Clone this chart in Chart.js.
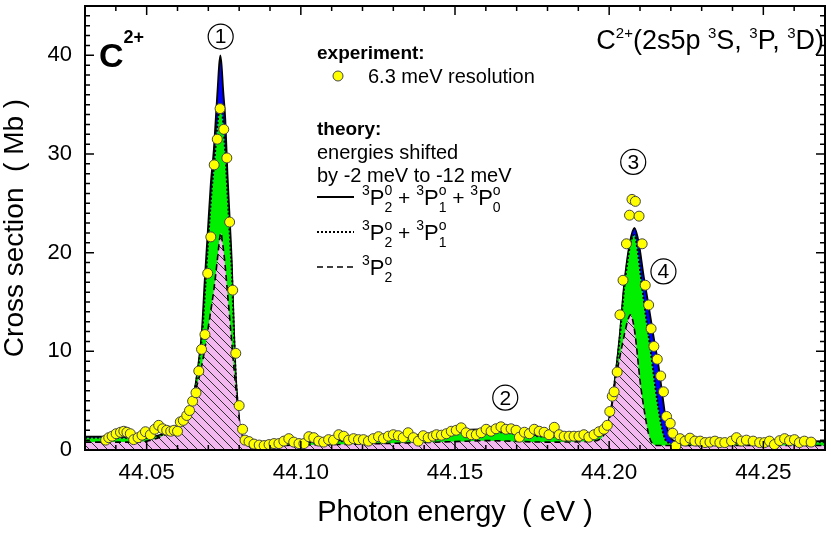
<!DOCTYPE html>
<html>
<head>
<meta charset="utf-8">
<script src="https://cdn.jsdelivr.net/npm/chart.js@4.4.1/dist/chart.umd.min.js"></script>
<style>
  html, body { margin: 0; padding: 0; background: #fff; }
  canvas { display: block; }
</style>
</head>
<body>
<canvas id="chart" width="831" height="533"></canvas>
<script>
const FONT = "'Liberation Sans', Arial, Helvetica, sans-serif";

// experiment, 6.3 meV resolution (photon energy eV / cross section Mb)
const expX = [44.0367, 44.0377, 44.0388, 44.0401, 44.0415, 44.0426, 44.0436, 44.0447, 44.0458, 44.0472,
  44.0485, 44.0496, 44.0512, 44.0526, 44.0539, 44.0552, 44.0565, 44.0578, 44.0589, 44.0600,
  44.0609, 44.0619, 44.0630, 44.0639, 44.0649, 44.0660, 44.0669, 44.0678, 44.0689, 44.0698,
  44.0708, 44.0719, 44.0729, 44.0738, 44.0750, 44.0760, 44.0769, 44.0779, 44.0789, 44.0800,
  44.0811, 44.0819, 44.0832, 44.0848, 44.0865, 44.0881, 44.0897, 44.0913, 44.0929, 44.0945,
  44.0961, 44.0977, 44.0994, 44.1010, 44.1026, 44.1042, 44.1058, 44.1074, 44.1090, 44.1106,
  44.1123, 44.1139, 44.1155, 44.1171, 44.1187, 44.1203, 44.1219, 44.1235, 44.1252, 44.1268,
  44.1284, 44.1300, 44.1316, 44.1332, 44.1348, 44.1365, 44.1381, 44.1397, 44.1413, 44.1429,
  44.1440, 44.1456, 44.1472, 44.1488, 44.1504, 44.1520, 44.1536, 44.1553, 44.1569, 44.1585,
  44.1601, 44.1617, 44.1633, 44.1649, 44.1665, 44.1682, 44.1698, 44.1709, 44.1725, 44.1741,
  44.1757, 44.1773, 44.1789, 44.1805, 44.1822, 44.1838, 44.1854, 44.1870, 44.1886, 44.1902,
  44.1918, 44.1934, 44.1951, 44.1967, 44.1983, 44.1994, 44.2002, 44.2010, 44.2016, 44.2026,
  44.2035, 44.2045, 44.2056, 44.2066, 44.2074, 44.2085, 44.2097, 44.2107, 44.2117, 44.2128,
  44.2136, 44.2145, 44.2156, 44.2167, 44.2176, 44.2186, 44.2198, 44.2206, 44.2216, 44.2230,
  44.2246, 44.2262, 44.2278, 44.2295, 44.2311, 44.2327, 44.2343, 44.2359, 44.2375, 44.2397,
  44.2413, 44.2429, 44.2445, 44.2467, 44.2488, 44.2504, 44.2520, 44.2536, 44.2553, 44.2569,
  44.2585, 44.2601, 44.2617, 44.2633, 44.2655];
const expY = [1.0, 1.25, 1.4, 1.65, 1.8, 1.9, 1.8, 1.65, 1.05, 1.25,
  1.5, 1.85, 1.55, 2.1, 2.5, 2.15, 2.0, 1.9, 2.0, 1.9,
  2.85, 3.0, 3.5, 4.0, 4.95, 5.8, 8.0, 10.2, 11.7, 17.9,
  21.6, 28.9, 31.5, 34.6, 32.5, 29.6, 23.1, 16.2, 9.8, 4.5,
  2.1, 1.0, 0.85, 0.6, 0.5, 0.45, 0.55, 0.65, 0.65, 0.9,
  1.15, 0.8, 0.65, 0.65, 1.35, 1.25, 0.9, 0.8, 1.05, 1.0,
  1.55, 1.4, 1.0, 1.15, 1.05, 1.05, 0.9, 1.15, 1.35, 1.15,
  1.4, 1.55, 1.45, 1.25, 1.75, 1.25, 0.9, 1.45, 1.25, 1.4,
  1.55, 1.5, 1.65, 1.9, 2.0, 2.25, 1.75, 1.55, 1.55, 1.75,
  2.1, 1.9, 2.15, 2.35, 2.1, 2.15, 2.0, 1.3, 1.8, 1.65,
  2.1, 1.9, 1.8, 1.55, 2.3, 1.55, 1.4, 1.4, 1.4, 1.4,
  1.55, 1.3, 1.55, 1.85, 2.1, 2.5, 3.9, 5.45, 5.9, 7.9,
  13.7, 17.2, 20.9, 23.8, 25.4, 25.2, 23.7, 20.9, 16.7, 14.7,
  12.3, 10.5, 9.2, 7.5, 5.9, 3.4, 2.7, 1.7, 0.4, 1.15,
  0.9, 1.2, 0.9, 0.9, 0.75, 0.8, 0.9, 0.75, 0.75, 0.9,
  1.25, 0.9, 1.0, 0.9, 0.75, 0.75, 0.9, 0.55, 0.95, 1.15,
  0.95, 1.05, 0.75, 0.9, 0.8];

// theory 3P2 + 3P1 + 3P0 (solid line, blue)
const sumX = [44.030, 44.040, 44.048, 44.053, 44.0575, 44.061, 44.064, 44.0655, 44.0667, 44.0679,
  44.0688, 44.0698, 44.0708, 44.0718, 44.0725, 44.0731, 44.0735, 44.0739, 44.0743, 44.0748,
  44.0755, 44.0762, 44.0770, 44.0776, 44.0782, 44.0788, 44.0796, 44.0803, 44.0815, 44.0830,
  44.090, 44.100, 44.110, 44.120, 44.130, 44.140, 44.150, 44.158, 44.165, 44.175,
  44.185, 44.195, 44.198, 44.1994, 44.2008, 44.2020, 44.2034, 44.2049, 44.2067, 44.2082,
  44.2096, 44.2112, 44.2128, 44.2144, 44.2160, 44.2176, 44.2187, 44.2198, 44.2215, 44.224,
  44.250, 44.270];
const sumY = [1.35, 1.35, 1.3, 1.4, 1.9, 2.7, 4.1, 6.0, 8.5, 12.0,
  17.0, 22.0, 27.0, 30.5, 34.0, 37.0, 39.0, 40.0, 39.0, 36.5,
  33.5, 28.0, 23.0, 19.0, 13.0, 8.0, 4.5, 2.2, 1.0, 0.6,
  0.6, 0.75, 0.9, 1.05, 1.25, 1.6, 1.95, 2.1, 1.9, 1.55,
  1.4, 1.5, 1.9, 2.5, 4.5, 7.5, 11.5, 16.9, 21.0, 22.5,
  21.0, 17.6, 14.6, 11.5, 8.5, 4.8, 2.4, 1.3, 0.85, 0.75,
  0.8, 0.9];

// theory 3P2 + 3P1 (dotted line, green)
const twoX = [44.030, 44.040, 44.048, 44.053, 44.0575, 44.061, 44.064, 44.0655, 44.0667, 44.0680,
  44.0690, 44.0700, 44.0710, 44.0720, 44.0728, 44.0735, 44.0739, 44.0744, 44.0750, 44.0757,
  44.0764, 44.0771, 44.0777, 44.0783, 44.0789, 44.0796, 44.0803, 44.0815, 44.0830, 44.090,
  44.100, 44.110, 44.120, 44.130, 44.140, 44.150, 44.158, 44.165, 44.175, 44.185,
  44.195, 44.198, 44.1994, 44.2008, 44.2020, 44.2034, 44.2049, 44.2067, 44.2082, 44.2092,
  44.2105, 44.2119, 44.2134, 44.2148, 44.2164, 44.2180, 44.2195, 44.2210, 44.224, 44.250,
  44.270];
const twoY = [1.25, 1.25, 1.2, 1.35, 1.85, 2.6, 4.0, 5.9, 8.3, 11.8,
  16.5, 21.5, 26.0, 29.5, 32.5, 34.5, 35.0, 34.5, 32.5, 29.0,
  25.0, 21.0, 17.5, 12.0, 7.5, 4.3, 2.1, 0.95, 0.55, 0.55,
  0.7, 0.85, 1.0, 1.2, 1.5, 1.85, 2.0, 1.8, 1.45, 1.3,
  1.4, 1.8, 2.4, 4.4, 7.4, 11.3, 16.5, 20.6, 21.8, 20.3,
  17.0, 13.6, 10.2, 6.8, 3.4, 1.2, 0.7, 0.55, 0.6, 0.7,
  0.8];

// theory 3P2 only (dashed line, hatched pink)
const oneX = [44.030, 44.045, 44.050, 44.0553, 44.0606, 44.0640, 44.0660, 44.0675, 44.0690, 44.0705,
  44.0719, 44.0730, 44.0737, 44.0741, 44.0746, 44.0752, 44.0762, 44.0773, 44.0784, 44.0795,
  44.0805, 44.0815, 44.0832, 44.100, 44.120, 44.150, 44.160, 44.180, 44.195, 44.198,
  44.1994, 44.2008, 44.2020, 44.2035, 44.2050, 44.2062, 44.2069, 44.2076, 44.2085, 44.2101,
  44.2117, 44.2128, 44.2139, 44.2160, 44.270];
const oneY = [0.8, 0.8, 0.9, 1.45, 2.5, 3.9, 6.2, 8.0, 10.5, 13.5,
  16.5, 19.5, 21.5, 22.0, 21.0, 19.5, 16.0, 12.0, 8.0, 4.5,
  2.2, 1.0, 0.4, 0.5, 0.6, 0.85, 0.95, 0.8, 0.9, 1.4,
  2.3, 4.3, 7.0, 9.5, 11.8, 13.3, 13.7, 13.2, 11.5, 6.8,
  3.4, 1.6, 0.7, 0.45, 0.45];

const xTicks = [44.05, 44.10, 44.15, 44.20, 44.25];
const yTicks = [0, 10, 20, 30, 40];

// circled resonance labels
const peakNames = ['1', '2', '3', '4'];
const peakX = [44.0740, 44.1663, 44.2078, 44.2176];
const peakY = [41.9, 5.3, 29.2, 18.1];

const pts = (xs, ys) => xs.map((x, i) => ({ x: x, y: ys[i] }));

function hatchPattern() {
  const s = 9;
  const c = document.createElement('canvas');
  c.width = s; c.height = s;
  const g = c.getContext('2d');
  g.fillStyle = '#f3b8ef';
  g.fillRect(0, 0, s, s);
  g.strokeStyle = '#2e2e2e';
  g.lineWidth = 1;
  g.beginPath();
  g.moveTo(0, 0); g.lineTo(s, s);
  g.moveTo(-1, s - 1); g.lineTo(1, s + 1);
  g.moveTo(s - 1, -1); g.lineTo(s + 1, 1);
  g.stroke();
  return g.createPattern(c, 'repeat');
}

// small rich-text helper for super/subscripts
const T = (t, size, dy, b) => ({ t: t, size: size, dy: dy || 0, b: !!b });
const S = (sup, sub, size) => ({ st: true, sup: sup, sub: sub, size: size });

function rich(ctx, x, y, parts, right) {
  const measure = p => {
    if (p.st) {
      ctx.font = p.size + 'px ' + FONT;
      return Math.max(ctx.measureText(p.sup).width, ctx.measureText(p.sub).width);
    }
    ctx.font = (p.b ? 'bold ' : '') + p.size + 'px ' + FONT;
    return ctx.measureText(p.t).width;
  };
  let w = 0;
  parts.forEach(p => { w += measure(p); });
  let cx = right ? x - w : x;
  ctx.textAlign = 'left';
  ctx.textBaseline = 'alphabetic';
  parts.forEach(p => {
    const pw = measure(p);
    if (p.st) {
      ctx.fillText(p.sup, cx, y - 10);
      ctx.fillText(p.sub, cx, y + 7);
    } else {
      ctx.fillText(p.t, cx, y + p.dy);
    }
    cx += pw;
  });
}

const frame = {
  id: 'frame',
  afterDatasetsDraw(chart) {
    const { ctx, chartArea: a, scales: { x, y } } = chart;
    ctx.save();
    ctx.strokeStyle = '#000';
    ctx.lineWidth = 1.5;
    ctx.beginPath();
    for (let i = 0; i <= 24; i++) {
      const v = 44.03 + i * 0.01;
      const len = xTicks.some(t => Math.abs(t - v) < 1e-6) ? 9 : 5;
      const px = x.getPixelForValue(v);
      ctx.moveTo(px, a.bottom); ctx.lineTo(px, a.bottom - len);
      ctx.moveTo(px, a.top); ctx.lineTo(px, a.top + len);
    }
    for (let v = 0; v <= 45; v++) {
      const len = yTicks.includes(v) ? 9 : 5;
      const py = y.getPixelForValue(v);
      ctx.moveTo(a.left, py); ctx.lineTo(a.left + len, py);
      ctx.moveTo(a.right, py); ctx.lineTo(a.right - len, py);
    }
    ctx.stroke();
    ctx.lineWidth = 2;
    ctx.strokeRect(a.left, a.top, a.width, a.height);
    ctx.restore();
  },
  afterDraw(chart) {
    const { ctx, scales: { x, y } } = chart;
    ctx.save();
    ctx.fillStyle = '#000';
    ctx.strokeStyle = '#000';

    // circled numbers
    peakNames.forEach((n, i) => {
      const cx = x.getPixelForValue(peakX[i]);
      const cy = y.getPixelForValue(peakY[i]);
      ctx.lineWidth = 1.2;
      ctx.beginPath();
      ctx.arc(cx, cy, 12.5, 0, Math.PI * 2);
      ctx.stroke();
      ctx.font = '21px ' + FONT;
      ctx.textAlign = 'center';
      ctx.textBaseline = 'middle';
      ctx.fillText(n, cx, cy + 1);
    });

    // ion label
    rich(ctx, 99, 67, [T('C', 34, 0, true), T('2+', 18, -24, true)]);
    rich(ctx, 824, 49, [T('C', 27), T('2+', 15, -11), T('(2s5p ', 27), T('3', 15, -11), T('S, ', 27),
      T('3', 15, -11), T('P, ', 27), T('3', 15, -11), T('D)', 27)], true);

    // legend
    rich(ctx, 317, 59, [T('experiment:', 19, 0, true)]);
    ctx.beginPath();
    ctx.arc(338, 76, 5, 0, Math.PI * 2);
    ctx.fillStyle = '#ffff00';
    ctx.fill();
    ctx.lineWidth = 1;
    ctx.strokeStyle = '#444';
    ctx.stroke();
    ctx.fillStyle = '#000';
    ctx.strokeStyle = '#000';
    rich(ctx, 368, 83, [T('6.3 meV resolution', 20)]);
    rich(ctx, 317, 135, [T('theory:', 19, 0, true)]);
    rich(ctx, 317, 159, [T('energies shifted', 20)]);
    rich(ctx, 317, 182, [T('by -2 meV to -12 meV', 20)]);

    const samples = [[197, [], 2], [232, [2, 2], 2], [267, [6, 4], 1.6]];
    samples.forEach(s => {
      ctx.lineWidth = s[2];
      ctx.setLineDash(s[1]);
      ctx.beginPath();
      ctx.moveTo(317, s[0]); ctx.lineTo(354, s[0]);
      ctx.stroke();
    });
    ctx.setLineDash([]);
    const P = T('P', 22);
    const sup3 = T('3', 14, -10);
    const plus = T(' + ', 21);
    rich(ctx, 362, 205, [sup3, P, S('0', '2', 14), plus, sup3, P, S('o', '1', 14), plus, sup3, P, S('o', '0', 14)]);
    rich(ctx, 362, 240, [sup3, P, S('o', '2', 14), plus, sup3, P, S('o', '1', 14)]);
    rich(ctx, 362, 275, [sup3, P, S('o', '2', 14)]);
    ctx.restore();
  }
};

Chart.defaults.font.family = FONT;
Chart.defaults.color = '#000';

const theory = (xs, ys, fill, dash, width, order) => ({
  data: pts(xs, ys),
  borderColor: '#000',
  borderWidth: width,
  borderDash: dash,
  backgroundColor: fill,
  fill: 'origin',
  pointRadius: 0,
  cubicInterpolationMode: 'monotone',
  order: order
});

new Chart(document.getElementById('chart'), {
  type: 'line',
  data: {
    datasets: [
      {
        data: pts(expX, expY),
        showLine: false,
        pointRadius: 5,
        pointBackgroundColor: '#ffff00',
        pointBorderColor: '#444',
        pointBorderWidth: 1,
        order: 0
      },
      theory(oneX, oneY, hatchPattern(), [6, 4], 1.6, 1),
      theory(twoX, twoY, '#00f000', [2, 2], 2, 2),
      theory(sumX, sumY, '#0000ff', [], 1.8, 3)
    ]
  },
  options: {
    responsive: false,
    devicePixelRatio: 1,
    animation: false,
    events: [],
    layout: { padding: { top: 6, right: 4, left: 0, bottom: 0 } },
    plugins: { legend: { display: false }, tooltip: { enabled: false } },
    scales: {
      x: {
        type: 'linear',
        min: 44.03,
        max: 44.27,
        grid: { display: false, drawTicks: false },
        border: { display: false },
        afterBuildTicks: s => { s.ticks = xTicks.map(v => ({ value: v })); },
        afterFit: s => { s.height = 83; s.paddingLeft = 0; s.paddingRight = 0; },
        ticks: {
          font: { size: 22.5 },
          padding: 9,
          maxRotation: 0,
          autoSkip: false,
          callback: v => v.toFixed(2)
        },
        title: {
          display: true,
          text: 'Photon energy  ( eV )',
          font: { size: 29 },
          padding: { top: 0, bottom: 3 }
        }
      },
      y: {
        min: 0,
        max: 45,
        grid: { display: false, drawTicks: false },
        border: { display: false },
        afterBuildTicks: s => { s.ticks = yTicks.map(v => ({ value: v })); },
        afterFit: s => { s.width = 85; s.paddingTop = 0; s.paddingBottom = 0; },
        ticks: { font: { size: 22 }, padding: 13 },
        title: {
          display: true,
          text: 'Cross section  ( Mb )',
          font: { size: 28 },
          padding: { top: -1.5, bottom: 0 }
        }
      }
    }
  },
  plugins: [frame]
});
</script>
</body>
</html>
